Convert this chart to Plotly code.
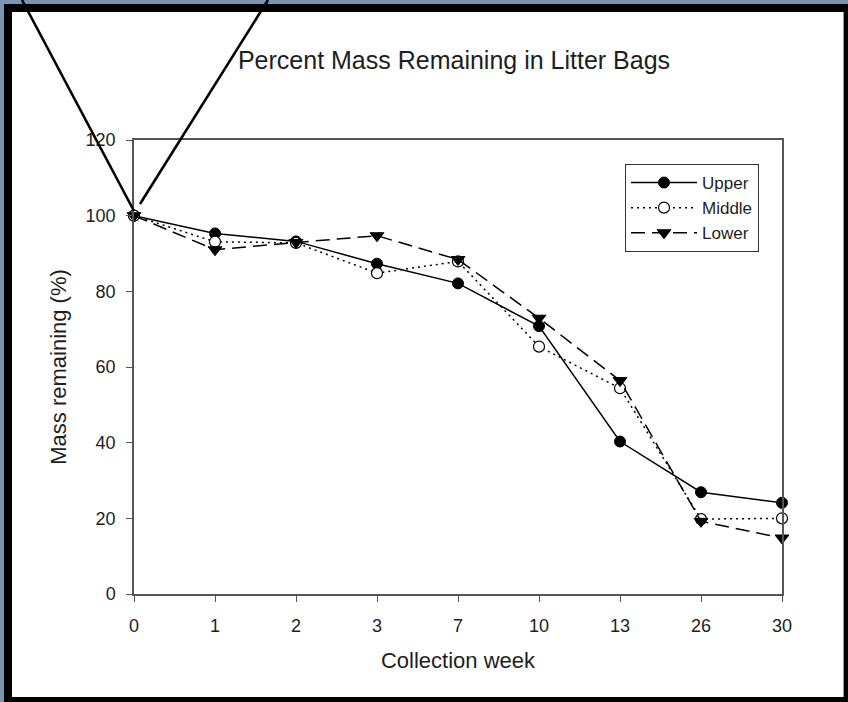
import plotly.graph_objects as go

# Litter bag decomposition: percent of original mass left at each collection
weeks = ["0", "1", "2", "3", "7", "10", "13", "26", "30"]
upper = [100, 95.3, 93.2, 87.3, 82.1, 70.8, 40.3, 26.9, 24.1]
middle = [100, 93.1, 92.8, 84.8, 87.9, 65.4, 54.4, 19.8, 20.0]
lower = [100, 91.0, 92.9, 94.7, 88.4, 72.9, 56.4, 19.2, 14.8]
y_ticks = [0, 20, 40, 60, 80, 100, 120]

W, H = 848, 702
L, R, T, B = 134, 782, 140, 594  # plot area edges in page pixels


def px(x):
    return (x - L) / (R - L)


def py(y):
    return (B - y) / (B - T)


FONT = "Liberation Sans, Arial, sans-serif"
AXIS = "#555555"
TEXT = "#1e1e1e"

fig = go.Figure()
fig.add_trace(go.Scatter(
    x=weeks, y=upper, name="Upper", mode="lines+markers",
    line=dict(color="black", width=1.5),
    marker=dict(symbol="circle", size=11, color="black", line=dict(color="black", width=1)),
    cliponaxis=False,
))
fig.add_trace(go.Scatter(
    x=weeks, y=middle, name="Middle", mode="lines+markers",
    line=dict(color="black", width=1.5, dash="2px,4px"),
    marker=dict(symbol="circle", size=11, color="white", line=dict(color="black", width=1.2)),
    cliponaxis=False,
))
fig.add_trace(go.Scatter(
    x=weeks, y=lower, name="Lower", mode="lines+markers",
    line=dict(color="black", width=1.5, dash="14px,7px"),
    marker=dict(symbol="triangle-down", size=12, color="black", line=dict(color="black", width=1)),
    cliponaxis=False,
))

shapes = [
    # dark frame and white panel
    dict(type="rect", xref="paper", yref="paper", layer="below",
         x0=px(4), x1=px(W + 2), y0=py(H + 2), y1=py(4),
         fillcolor="black", line=dict(width=0)),
    dict(type="rect", xref="paper", yref="paper", layer="below",
         x0=px(12), x1=px(843), y0=py(697), y1=py(12),
         fillcolor="white", line=dict(width=0)),
    dict(type="line", xref="paper", yref="paper", layer="below",
         x0=px(843.5), x1=px(843.5), y0=py(697), y1=py(12),
         line=dict(color="#999999", width=1)),
    # callout lines converging on the starting point
    dict(type="line", xref="paper", yref="paper", layer="above",
         x0=px(22), y0=py(0), x1=px(134), y1=py(211),
         line=dict(color="black", width=2.6)),
    dict(type="line", xref="paper", yref="paper", layer="above",
         x0=px(268), y0=py(0), x1=px(140), y1=py(204),
         line=dict(color="black", width=2.6)),
]

fig.update_layout(
    width=W, height=H,
    margin=dict(l=L, r=W - R, t=T, b=H - B, pad=0),
    paper_bgcolor="#7B94B4",
    plot_bgcolor="white",
    font=dict(family=FONT, color=TEXT, size=18),
    shapes=shapes,
    showlegend=True,
    title=dict(
        text="Percent Mass Remaining in Litter Bags",
        x=px(454), xref="paper", xanchor="center",
        y=1 - 60 / H, yref="container", yanchor="middle",
        font=dict(family=FONT, size=25, color=TEXT),
    ),
    legend=dict(
        x=px(625), y=py(164), xanchor="left", yanchor="top",
        bgcolor="white", bordercolor="#333333", borderwidth=1,
        font=dict(family=FONT, size=17, color=TEXT),
        itemwidth=66, tracegroupgap=0,
    ),
    xaxis=dict(
        type="category", range=[0, 8],
        showline=True, mirror=True, linecolor=AXIS, linewidth=1.5,
        ticks="outside", ticklen=6, tickcolor=AXIS, tickwidth=1.2,
        ticklabelstandoff=9,
        showgrid=False, zeroline=False,
        tickfont=dict(family=FONT, size=18, color=TEXT),
        title=dict(text="Collection week", standoff=17,
                   font=dict(family=FONT, size=22, color=TEXT)),
    ),
    yaxis=dict(
        range=[0, 120], tickvals=y_ticks,
        showline=True, mirror=True, linecolor=AXIS, linewidth=1.5,
        ticks="outside", ticklen=6, tickcolor=AXIS, tickwidth=1.2,
        ticklabelstandoff=7,
        showgrid=False, zeroline=False,
        tickfont=dict(family=FONT, size=18, color=TEXT),
        title=dict(text="Mass remaining (%)", standoff=13,
                   font=dict(family=FONT, size=22, color=TEXT)),
    ),
)

fig.write_html("out.html")
